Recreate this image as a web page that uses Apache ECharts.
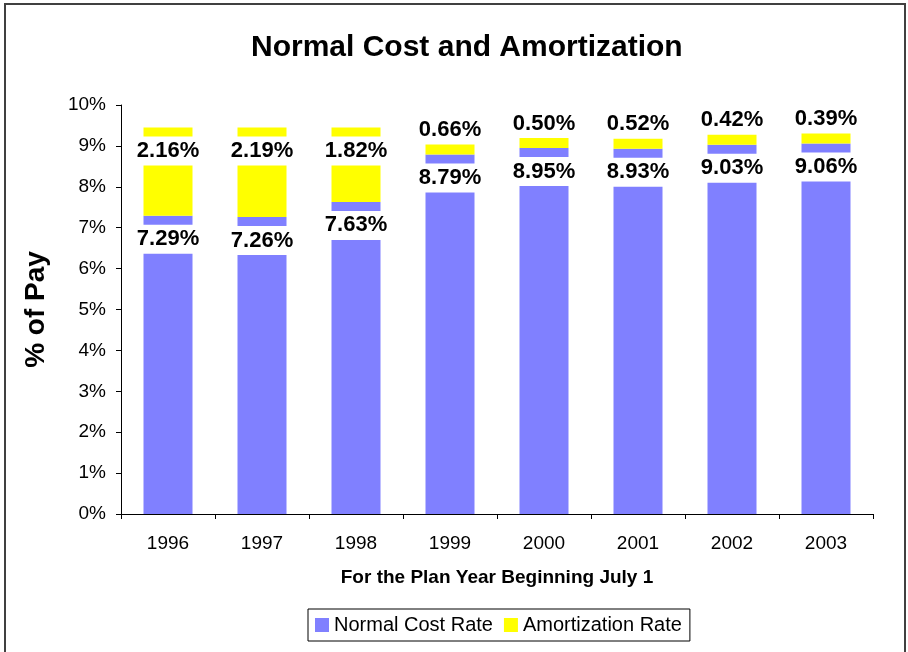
<!DOCTYPE html>
<html>
<head>
<meta charset="utf-8">
<script src="https://cdn.jsdelivr.net/npm/echarts@6/dist/echarts.min.js"></script>
<style>
  html, body { margin: 0; padding: 0; background: #fff; }
  #cost-chart { width: 908px; height: 652px; }
</style>
</head>
<body>
<div id="cost-chart"></div>
<script>
// data
const years = ['1996', '1997', '1998', '1999', '2000', '2001', '2002', '2003']
const normalCost = [7.29, 7.26, 7.63, 8.79, 8.95, 8.93, 9.03, 9.06]
const amortization = [2.16, 2.19, 1.82, 0.66, 0.50, 0.52, 0.42, 0.39]
const yTicks = [0, 1, 2, 3, 4, 5, 6, 7, 8, 9, 10]

const font = 'Liberation Sans, Arial, sans-serif'

let labelStyle = {
  show: true,
  position: 'insideTop',
  distance: 9,
  color: '#000',
  fontFamily: font,
  fontWeight: 'bold',
  fontSize: 22,
  lineHeight: 25,
  backgroundColor: '#fff',
  padding: [2, 2, 2, 2],
  formatter: p => p.value.toFixed(2) + '%'
}

// small amortization pieces get their label pushed up off the bar
let amortData = amortization.map(v => {
  if (v < 1) {
    return { value: v, label: { position: 'insideBottom', distance: 10 } }
  }
  return v
})

let myChart = echarts.init(document.getElementById('cost-chart'))
let option = {
  animation: false,
  color: ['#8080FF', '#FFFF00'],
  title: {
    text: 'Normal Cost and Amortization',
    left: 246,
    top: 28,
    textStyle: {
      fontFamily: font,
      fontWeight: 'bold',
      fontSize: 30,
      color: '#000'
    }
  },
  graphic: [
    {
      type: 'rect',
      shape: { x: 5, y: 4, width: 900, height: 700 },
      style: { fill: 'none', stroke: '#404040', lineWidth: 2 },
      silent: true
    }
  ],
  legend: {
    data: ['Normal Cost Rate', 'Amortization Rate'],
    left: 308,
    top: 609,
    orient: 'horizontal',
    icon: 'rect',
    itemWidth: 14,
    itemHeight: 14,
    itemGap: 11,
    padding: [6, 8, 6, 7],
    borderColor: '#000',
    borderWidth: 1,
    borderRadius: 0,
    textStyle: {
      fontFamily: font,
      fontSize: 20,
      color: '#000'
    }
  },
  grid: {
    left: 121,
    right: 35,
    top: 105,
    bottom: 138,
    containLabel: false
  },
  xAxis: {
    type: 'category',
    data: years,
    name: 'For the Plan Year Beginning July 1',
    nameLocation: 'middle',
    nameGap: 54,
    nameTextStyle: {
      fontFamily: font,
      fontWeight: 'bold',
      fontSize: 19,
      color: '#000'
    },
    axisLine: { lineStyle: { color: '#000', width: 1 } },
    axisTick: { show: true, length: 5, lineStyle: { color: '#000' } },
    axisLabel: {
      margin: 20,
      fontFamily: font,
      fontSize: 19,
      color: '#000'
    }
  },
  yAxis: {
    type: 'value',
    min: yTicks[0],
    max: yTicks[yTicks.length - 1],
    interval: 1,
    name: '% of Pay',
    nameLocation: 'middle',
    nameRotate: 90,
    nameGap: 71,
    nameTextStyle: {
      fontFamily: font,
      fontWeight: 'bold',
      fontSize: 28,
      color: '#000'
    },
    splitLine: { show: false },
    axisLine: { show: true, lineStyle: { color: '#000', width: 1 } },
    axisTick: { show: true, length: 5, lineStyle: { color: '#000' } },
    axisLabel: {
      margin: 15,
      fontFamily: font,
      fontSize: 19,
      color: '#000',
      formatter: '{value}%'
    }
  },
  series: [
    {
      name: 'Normal Cost Rate',
      type: 'bar',
      stack: 'total',
      barWidth: 49,
      label: labelStyle,
      data: normalCost
    },
    {
      name: 'Amortization Rate',
      type: 'bar',
      stack: 'total',
      barWidth: 49,
      label: labelStyle,
      data: amortData
    }
  ]
}
myChart.setOption(option)
</script>
</body>
</html>
